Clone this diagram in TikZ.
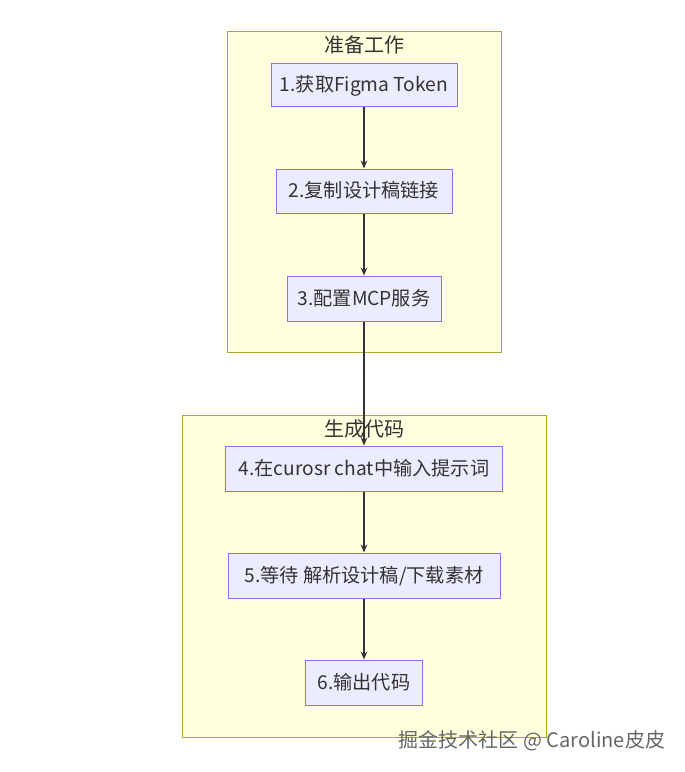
\documentclass[tikz,border=0pt]{standalone}
\usepackage{fontspec}
\setmainfont{Noto Sans CJK SC}
\usetikzlibrary{arrows.meta}
\definecolor{clfill}{HTML}{FFFFDE}
\definecolor{cldraw}{HTML}{AAAA33}
\definecolor{ndfill}{HTML}{ECECFF}
\definecolor{nddraw}{HTML}{9370DB}
\definecolor{txt}{HTML}{333333}
\definecolor{wm}{HTML}{666666}
\tikzset{
  cluster/.style={draw=cldraw, fill=clfill, line width=0.75pt},
  stepbox/.style={draw=nddraw, fill=ndfill, line width=0.75pt, text=txt, font=\fontsize{14.4}{16}\selectfont, inner sep=0pt, anchor=center, text height=1.08em, text depth=0.1em},
  title/.style={text=txt, font=\fontsize{15}{17}\selectfont, inner sep=0pt},
  conn/.style={draw=txt, line width=1.2pt, -{Stealth[length=6pt,width=5pt]}},
}
\begin{document}
\begin{tikzpicture}[x=0.75pt,y=-0.75pt]
\useasboundingbox (0,0) rectangle (685,772);
\fill[white] (0,0) rectangle (685,772);
% clusters
\draw[cluster] (227,31) rectangle (501,352);
\node[title] (t1) at (364,45) {准备工作};
\draw[cluster] (182,415) rectangle (546,737);
\node[title] (t2) at (364,429) {生成代码};
% nodes
\node[stepbox, minimum width=186*0.75pt, minimum height=43*0.75pt] (n1) at (364,85) {1.获取Figma Token};
\node[stepbox, minimum width=176*0.75pt, minimum height=44*0.75pt] (n2) at (364,191) {2.复制设计稿链接};
\node[stepbox, minimum width=154*0.75pt, minimum height=45*0.75pt] (n3) at (364,298.5) {3.配置MCP服务};
\node[stepbox, minimum width=277*0.75pt, minimum height=45*0.75pt] (n4) at (364,468.5) {4.在curosr chat中输入提示词};
\node[stepbox, minimum width=272*0.75pt, minimum height=45*0.75pt] (n5) at (364,575.5) {5.等待 解析设计稿/下载素材};
\node[stepbox, minimum width=117*0.75pt, minimum height=45*0.75pt] (n6) at (364,682.5) {6.输出代码};
% connectors
\draw[conn] (n1) -- (n2);
\draw[conn] (n2) -- (n3);
\draw[conn] (n3) -- (n4);
\draw[conn] (n4) -- (n5);
\draw[conn] (n5) -- (n6);
% watermark
\node[text=wm, font=\fontsize{15}{17}\selectfont, inner sep=0pt] (wmk) at (532,741) {掘金技术社区 @ Caroline皮皮};
\end{tikzpicture}
\end{document}
